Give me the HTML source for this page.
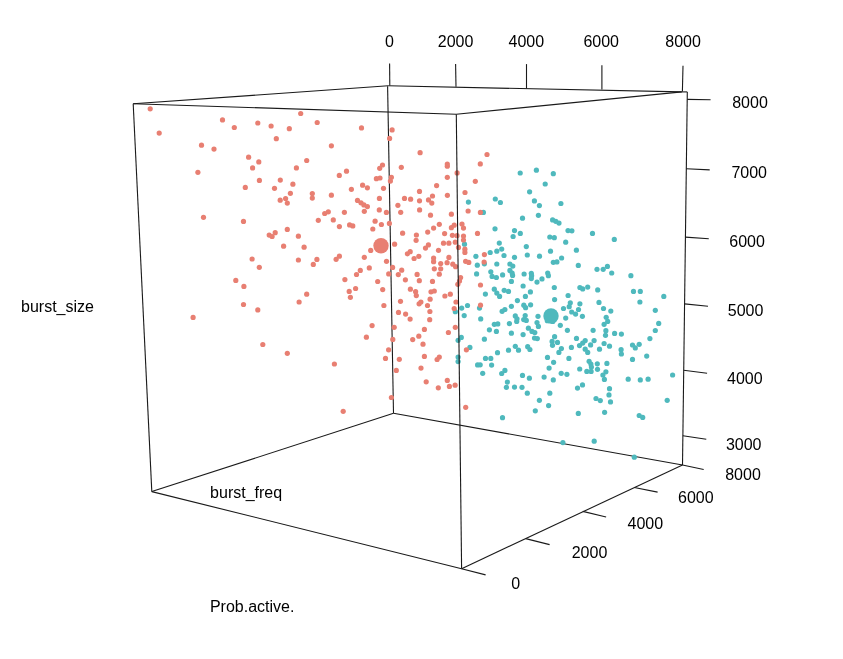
<!DOCTYPE html>
<html><head><meta charset="utf-8"><style>
html,body{margin:0;padding:0;background:#fff;}
svg{display:block;will-change:transform;}
text{font-family:"Liberation Sans",sans-serif;font-size:16px;fill:#000;}
</style></head><body>
<svg width="843" height="659" viewBox="0 0 843 659">
<rect width="843" height="659" fill="#fff"/>
<g stroke="#1a1a1a" stroke-width="1.1" fill="none">
<line x1="133.2" y1="103.7" x2="388.2" y2="85.8"/>
<line x1="388.2" y1="85.8" x2="681.8" y2="91.9"/>
<line x1="681.8" y1="91.9" x2="456.3" y2="114.2"/>
<line x1="456.3" y1="114.2" x2="133.2" y2="103.7"/>
<line x1="681.8" y1="91.9" x2="687.3" y2="91.9"/>
<line x1="133.2" y1="103.7" x2="151.8" y2="491.6"/>
<line x1="387.6" y1="86.3" x2="393.5" y2="413.3"/>
<line x1="687.3" y1="91.9" x2="682.5" y2="465.0"/>
<line x1="151.8" y1="491.6" x2="393.5" y2="413.3"/>
<line x1="393.5" y1="413.3" x2="682.5" y2="465.0"/>
<line x1="682.5" y1="465.0" x2="461.6" y2="568.7"/>
<line x1="461.6" y1="568.7" x2="151.8" y2="491.6"/>
<line x1="389.6" y1="63.6" x2="389.8" y2="85.6"/>
<line x1="455.6" y1="64.0" x2="456.0" y2="86.8"/>
<line x1="526.5" y1="64.1" x2="526.5" y2="88.5"/>
<line x1="601.9" y1="65.2" x2="601.9" y2="89.6"/>
<line x1="683.0" y1="65.7" x2="682.4" y2="91.5"/>
<line x1="461.6" y1="568.7" x2="485.6" y2="574.9"/>
<line x1="525.7" y1="538.6" x2="549.6" y2="544.6"/>
<line x1="582.8" y1="511.4" x2="606.1" y2="517.0"/>
<line x1="634.3" y1="487.5" x2="657.6" y2="492.1"/>
<line x1="682.5" y1="465.0" x2="703.7" y2="469.5"/>
<line x1="687.2" y1="99.4" x2="710.6" y2="99.8"/>
<line x1="686.3" y1="168.8" x2="709.7" y2="169.9"/>
<line x1="685.4" y1="237.1" x2="708.8" y2="238.8"/>
<line x1="684.6" y1="303.9" x2="708.0" y2="306.2"/>
<line x1="683.7" y1="370.2" x2="707.1" y2="373.2"/>
<line x1="682.9" y1="435.7" x2="706.3" y2="439.3"/>
</g>
<g>
<circle cx="520.2" cy="173.0" r="2.6" fill="#4fb9bd"/>
<circle cx="536.4" cy="170.2" r="2.6" fill="#4fb9bd"/>
<circle cx="553.3" cy="173.7" r="2.6" fill="#4fb9bd"/>
<circle cx="545.2" cy="184.0" r="2.6" fill="#4fb9bd"/>
<circle cx="468.4" cy="202.1" r="2.6" fill="#4fb9bd"/>
<circle cx="483.4" cy="212.4" r="2.6" fill="#4fb9bd"/>
<circle cx="464.5" cy="244.2" r="2.6" fill="#4fb9bd"/>
<circle cx="475.9" cy="256.3" r="2.6" fill="#4fb9bd"/>
<circle cx="490.2" cy="252.5" r="2.6" fill="#4fb9bd"/>
<circle cx="477.3" cy="265.2" r="2.6" fill="#4fb9bd"/>
<circle cx="484.4" cy="263.8" r="2.6" fill="#4fb9bd"/>
<circle cx="476.6" cy="273.9" r="2.6" fill="#4fb9bd"/>
<circle cx="490.8" cy="271.8" r="2.6" fill="#4fb9bd"/>
<circle cx="529.6" cy="191.8" r="2.6" fill="#4fb9bd"/>
<circle cx="495.3" cy="199.0" r="2.6" fill="#4fb9bd"/>
<circle cx="500.4" cy="202.5" r="2.6" fill="#4fb9bd"/>
<circle cx="534.4" cy="200.9" r="2.6" fill="#4fb9bd"/>
<circle cx="539.4" cy="205.6" r="2.6" fill="#4fb9bd"/>
<circle cx="560.9" cy="203.5" r="2.6" fill="#4fb9bd"/>
<circle cx="538.4" cy="215.3" r="2.6" fill="#4fb9bd"/>
<circle cx="522.5" cy="218.2" r="2.6" fill="#4fb9bd"/>
<circle cx="552.6" cy="219.9" r="2.6" fill="#4fb9bd"/>
<circle cx="555.8" cy="221.3" r="2.6" fill="#4fb9bd"/>
<circle cx="559.0" cy="223.1" r="2.6" fill="#4fb9bd"/>
<circle cx="495.0" cy="228.8" r="2.6" fill="#4fb9bd"/>
<circle cx="514.5" cy="230.6" r="2.6" fill="#4fb9bd"/>
<circle cx="520.3" cy="233.4" r="2.6" fill="#4fb9bd"/>
<circle cx="513.1" cy="236.5" r="2.6" fill="#4fb9bd"/>
<circle cx="568.0" cy="230.6" r="2.6" fill="#4fb9bd"/>
<circle cx="571.9" cy="230.8" r="2.6" fill="#4fb9bd"/>
<circle cx="592.5" cy="233.4" r="2.6" fill="#4fb9bd"/>
<circle cx="549.8" cy="237.0" r="2.6" fill="#4fb9bd"/>
<circle cx="554.3" cy="237.7" r="2.6" fill="#4fb9bd"/>
<circle cx="565.7" cy="242.2" r="2.6" fill="#4fb9bd"/>
<circle cx="499.3" cy="243.1" r="2.6" fill="#4fb9bd"/>
<circle cx="496.8" cy="251.2" r="2.6" fill="#4fb9bd"/>
<circle cx="501.7" cy="249.1" r="2.6" fill="#4fb9bd"/>
<circle cx="526.3" cy="246.6" r="2.6" fill="#4fb9bd"/>
<circle cx="504.0" cy="255.5" r="2.6" fill="#4fb9bd"/>
<circle cx="514.5" cy="257.3" r="2.6" fill="#4fb9bd"/>
<circle cx="527.3" cy="255.0" r="2.6" fill="#4fb9bd"/>
<circle cx="539.5" cy="256.2" r="2.6" fill="#4fb9bd"/>
<circle cx="550.5" cy="251.2" r="2.6" fill="#4fb9bd"/>
<circle cx="576.4" cy="250.2" r="2.6" fill="#4fb9bd"/>
<circle cx="553.3" cy="262.3" r="2.6" fill="#4fb9bd"/>
<circle cx="556.9" cy="261.9" r="2.6" fill="#4fb9bd"/>
<circle cx="561.6" cy="258.0" r="2.6" fill="#4fb9bd"/>
<circle cx="578.3" cy="265.4" r="2.6" fill="#4fb9bd"/>
<circle cx="496.8" cy="264.0" r="2.6" fill="#4fb9bd"/>
<circle cx="509.9" cy="264.0" r="2.6" fill="#4fb9bd"/>
<circle cx="512.8" cy="266.1" r="2.6" fill="#4fb9bd"/>
<circle cx="509.9" cy="270.4" r="2.6" fill="#4fb9bd"/>
<circle cx="512.1" cy="273.0" r="2.6" fill="#4fb9bd"/>
<circle cx="502.6" cy="274.9" r="2.6" fill="#4fb9bd"/>
<circle cx="524.1" cy="274.0" r="2.6" fill="#4fb9bd"/>
<circle cx="531.3" cy="273.3" r="2.6" fill="#4fb9bd"/>
<circle cx="547.7" cy="273.0" r="2.6" fill="#4fb9bd"/>
<circle cx="597.0" cy="269.3" r="2.6" fill="#4fb9bd"/>
<circle cx="603.2" cy="269.3" r="2.6" fill="#4fb9bd"/>
<circle cx="607.4" cy="266.4" r="2.6" fill="#4fb9bd"/>
<circle cx="614.3" cy="239.4" r="2.6" fill="#4fb9bd"/>
<circle cx="611.7" cy="273.0" r="2.6" fill="#4fb9bd"/>
<circle cx="630.9" cy="275.7" r="2.6" fill="#4fb9bd"/>
<circle cx="485.4" cy="294.1" r="2.6" fill="#4fb9bd"/>
<circle cx="467.5" cy="305.5" r="2.6" fill="#4fb9bd"/>
<circle cx="461.7" cy="308.1" r="2.6" fill="#4fb9bd"/>
<circle cx="455.3" cy="311.7" r="2.6" fill="#4fb9bd"/>
<circle cx="464.2" cy="315.6" r="2.6" fill="#4fb9bd"/>
<circle cx="479.5" cy="308.1" r="2.6" fill="#4fb9bd"/>
<circle cx="480.7" cy="318.9" r="2.6" fill="#4fb9bd"/>
<circle cx="489.4" cy="329.8" r="2.6" fill="#4fb9bd"/>
<circle cx="461.3" cy="337.4" r="2.6" fill="#4fb9bd"/>
<circle cx="458.1" cy="340.3" r="2.6" fill="#4fb9bd"/>
<circle cx="484.4" cy="339.2" r="2.6" fill="#4fb9bd"/>
<circle cx="469.9" cy="347.4" r="2.6" fill="#4fb9bd"/>
<circle cx="458.1" cy="357.0" r="2.6" fill="#4fb9bd"/>
<circle cx="458.1" cy="361.6" r="2.6" fill="#4fb9bd"/>
<circle cx="485.5" cy="358.4" r="2.6" fill="#4fb9bd"/>
<circle cx="490.8" cy="358.4" r="2.6" fill="#4fb9bd"/>
<circle cx="477.6" cy="364.9" r="2.6" fill="#4fb9bd"/>
<circle cx="480.2" cy="364.8" r="2.6" fill="#4fb9bd"/>
<circle cx="492.1" cy="276.4" r="2.6" fill="#4fb9bd"/>
<circle cx="496.4" cy="277.5" r="2.6" fill="#4fb9bd"/>
<circle cx="512.6" cy="275.4" r="2.6" fill="#4fb9bd"/>
<circle cx="531.6" cy="275.7" r="2.6" fill="#4fb9bd"/>
<circle cx="531.3" cy="278.6" r="2.6" fill="#4fb9bd"/>
<circle cx="542.0" cy="278.9" r="2.6" fill="#4fb9bd"/>
<circle cx="537.0" cy="282.1" r="2.6" fill="#4fb9bd"/>
<circle cx="548.4" cy="275.7" r="2.6" fill="#4fb9bd"/>
<circle cx="511.4" cy="281.4" r="2.6" fill="#4fb9bd"/>
<circle cx="523.1" cy="286.0" r="2.6" fill="#4fb9bd"/>
<circle cx="494.3" cy="289.2" r="2.6" fill="#4fb9bd"/>
<circle cx="496.8" cy="293.1" r="2.6" fill="#4fb9bd"/>
<circle cx="499.6" cy="296.4" r="2.6" fill="#4fb9bd"/>
<circle cx="504.2" cy="290.3" r="2.6" fill="#4fb9bd"/>
<circle cx="508.5" cy="291.4" r="2.6" fill="#4fb9bd"/>
<circle cx="530.4" cy="291.9" r="2.6" fill="#4fb9bd"/>
<circle cx="525.4" cy="296.4" r="2.6" fill="#4fb9bd"/>
<circle cx="517.4" cy="300.6" r="2.6" fill="#4fb9bd"/>
<circle cx="511.4" cy="306.3" r="2.6" fill="#4fb9bd"/>
<circle cx="523.8" cy="305.2" r="2.6" fill="#4fb9bd"/>
<circle cx="525.6" cy="307.7" r="2.6" fill="#4fb9bd"/>
<circle cx="530.6" cy="304.8" r="2.6" fill="#4fb9bd"/>
<circle cx="502.1" cy="311.3" r="2.6" fill="#4fb9bd"/>
<circle cx="504.9" cy="309.5" r="2.6" fill="#4fb9bd"/>
<circle cx="515.3" cy="315.9" r="2.6" fill="#4fb9bd"/>
<circle cx="517.0" cy="318.8" r="2.6" fill="#4fb9bd"/>
<circle cx="525.2" cy="315.6" r="2.6" fill="#4fb9bd"/>
<circle cx="523.7" cy="319.6" r="2.6" fill="#4fb9bd"/>
<circle cx="538.0" cy="316.3" r="2.6" fill="#4fb9bd"/>
<circle cx="554.3" cy="287.5" r="2.6" fill="#4fb9bd"/>
<circle cx="579.9" cy="287.5" r="2.6" fill="#4fb9bd"/>
<circle cx="582.7" cy="288.9" r="2.6" fill="#4fb9bd"/>
<circle cx="587.7" cy="287.1" r="2.6" fill="#4fb9bd"/>
<circle cx="597.7" cy="289.9" r="2.6" fill="#4fb9bd"/>
<circle cx="568.1" cy="295.5" r="2.6" fill="#4fb9bd"/>
<circle cx="554.6" cy="299.6" r="2.6" fill="#4fb9bd"/>
<circle cx="570.3" cy="302.8" r="2.6" fill="#4fb9bd"/>
<circle cx="569.2" cy="306.7" r="2.6" fill="#4fb9bd"/>
<circle cx="563.5" cy="308.5" r="2.6" fill="#4fb9bd"/>
<circle cx="579.9" cy="303.8" r="2.6" fill="#4fb9bd"/>
<circle cx="578.5" cy="309.5" r="2.6" fill="#4fb9bd"/>
<circle cx="571.7" cy="312.0" r="2.6" fill="#4fb9bd"/>
<circle cx="575.6" cy="314.1" r="2.6" fill="#4fb9bd"/>
<circle cx="582.4" cy="316.3" r="2.6" fill="#4fb9bd"/>
<circle cx="565.7" cy="318.1" r="2.6" fill="#4fb9bd"/>
<circle cx="599.0" cy="302.4" r="2.6" fill="#4fb9bd"/>
<circle cx="603.5" cy="308.5" r="2.6" fill="#4fb9bd"/>
<circle cx="610.8" cy="311.1" r="2.6" fill="#4fb9bd"/>
<circle cx="606.2" cy="317.3" r="2.6" fill="#4fb9bd"/>
<circle cx="494.3" cy="324.3" r="2.6" fill="#4fb9bd"/>
<circle cx="497.8" cy="323.9" r="2.6" fill="#4fb9bd"/>
<circle cx="496.4" cy="331.4" r="2.6" fill="#4fb9bd"/>
<circle cx="509.4" cy="323.6" r="2.6" fill="#4fb9bd"/>
<circle cx="516.7" cy="321.4" r="2.6" fill="#4fb9bd"/>
<circle cx="526.3" cy="320.4" r="2.6" fill="#4fb9bd"/>
<circle cx="537.0" cy="322.5" r="2.6" fill="#4fb9bd"/>
<circle cx="538.4" cy="326.4" r="2.6" fill="#4fb9bd"/>
<circle cx="547.3" cy="320.7" r="2.6" fill="#4fb9bd"/>
<circle cx="511.4" cy="333.2" r="2.6" fill="#4fb9bd"/>
<circle cx="523.1" cy="334.6" r="2.6" fill="#4fb9bd"/>
<circle cx="528.4" cy="328.2" r="2.6" fill="#4fb9bd"/>
<circle cx="532.0" cy="331.4" r="2.6" fill="#4fb9bd"/>
<circle cx="534.8" cy="332.5" r="2.6" fill="#4fb9bd"/>
<circle cx="534.5" cy="338.1" r="2.6" fill="#4fb9bd"/>
<circle cx="537.3" cy="338.6" r="2.6" fill="#4fb9bd"/>
<circle cx="515.3" cy="346.3" r="2.6" fill="#4fb9bd"/>
<circle cx="518.5" cy="350.2" r="2.6" fill="#4fb9bd"/>
<circle cx="527.7" cy="346.7" r="2.6" fill="#4fb9bd"/>
<circle cx="529.9" cy="349.5" r="2.6" fill="#4fb9bd"/>
<circle cx="508.5" cy="350.2" r="2.6" fill="#4fb9bd"/>
<circle cx="497.5" cy="352.7" r="2.6" fill="#4fb9bd"/>
<circle cx="491.6" cy="365.1" r="2.6" fill="#4fb9bd"/>
<circle cx="547.5" cy="357.4" r="2.6" fill="#4fb9bd"/>
<circle cx="552.8" cy="321.4" r="2.6" fill="#4fb9bd"/>
<circle cx="560.3" cy="325.3" r="2.6" fill="#4fb9bd"/>
<circle cx="567.4" cy="330.3" r="2.6" fill="#4fb9bd"/>
<circle cx="593.1" cy="330.3" r="2.6" fill="#4fb9bd"/>
<circle cx="604.1" cy="324.3" r="2.6" fill="#4fb9bd"/>
<circle cx="607.7" cy="321.4" r="2.6" fill="#4fb9bd"/>
<circle cx="605.9" cy="330.7" r="2.6" fill="#4fb9bd"/>
<circle cx="605.5" cy="335.3" r="2.6" fill="#4fb9bd"/>
<circle cx="554.6" cy="336.7" r="2.6" fill="#4fb9bd"/>
<circle cx="552.1" cy="341.4" r="2.6" fill="#4fb9bd"/>
<circle cx="552.5" cy="345.3" r="2.6" fill="#4fb9bd"/>
<circle cx="557.5" cy="342.4" r="2.6" fill="#4fb9bd"/>
<circle cx="576.5" cy="338.4" r="2.6" fill="#4fb9bd"/>
<circle cx="585.2" cy="340.6" r="2.6" fill="#4fb9bd"/>
<circle cx="582.7" cy="343.1" r="2.6" fill="#4fb9bd"/>
<circle cx="579.5" cy="345.6" r="2.6" fill="#4fb9bd"/>
<circle cx="585.2" cy="349.2" r="2.6" fill="#4fb9bd"/>
<circle cx="587.7" cy="352.4" r="2.6" fill="#4fb9bd"/>
<circle cx="594.1" cy="340.6" r="2.6" fill="#4fb9bd"/>
<circle cx="590.6" cy="344.9" r="2.6" fill="#4fb9bd"/>
<circle cx="604.1" cy="343.5" r="2.6" fill="#4fb9bd"/>
<circle cx="609.5" cy="346.2" r="2.6" fill="#4fb9bd"/>
<circle cx="599.5" cy="349.2" r="2.6" fill="#4fb9bd"/>
<circle cx="571.4" cy="347.4" r="2.6" fill="#4fb9bd"/>
<circle cx="561.4" cy="348.5" r="2.6" fill="#4fb9bd"/>
<circle cx="558.9" cy="352.4" r="2.6" fill="#4fb9bd"/>
<circle cx="568.9" cy="358.4" r="2.6" fill="#4fb9bd"/>
<circle cx="553.6" cy="362.3" r="2.6" fill="#4fb9bd"/>
<circle cx="589.1" cy="361.3" r="2.6" fill="#4fb9bd"/>
<circle cx="590.9" cy="364.1" r="2.6" fill="#4fb9bd"/>
<circle cx="597.3" cy="363.8" r="2.6" fill="#4fb9bd"/>
<circle cx="606.9" cy="363.4" r="2.6" fill="#4fb9bd"/>
<circle cx="633.5" cy="291.4" r="2.6" fill="#4fb9bd"/>
<circle cx="640.3" cy="291.4" r="2.6" fill="#4fb9bd"/>
<circle cx="663.8" cy="296.4" r="2.6" fill="#4fb9bd"/>
<circle cx="639.9" cy="302.0" r="2.6" fill="#4fb9bd"/>
<circle cx="655.3" cy="310.3" r="2.6" fill="#4fb9bd"/>
<circle cx="658.7" cy="323.4" r="2.6" fill="#4fb9bd"/>
<circle cx="655.3" cy="330.5" r="2.6" fill="#4fb9bd"/>
<circle cx="614.6" cy="333.4" r="2.6" fill="#4fb9bd"/>
<circle cx="621.4" cy="334.1" r="2.6" fill="#4fb9bd"/>
<circle cx="649.9" cy="338.6" r="2.6" fill="#4fb9bd"/>
<circle cx="632.5" cy="345.0" r="2.6" fill="#4fb9bd"/>
<circle cx="635.3" cy="347.9" r="2.6" fill="#4fb9bd"/>
<circle cx="639.2" cy="344.3" r="2.6" fill="#4fb9bd"/>
<circle cx="621.1" cy="349.7" r="2.6" fill="#4fb9bd"/>
<circle cx="621.4" cy="354.0" r="2.6" fill="#4fb9bd"/>
<circle cx="646.7" cy="356.1" r="2.6" fill="#4fb9bd"/>
<circle cx="632.5" cy="359.4" r="2.6" fill="#4fb9bd"/>
<circle cx="482.7" cy="373.3" r="2.6" fill="#4fb9bd"/>
<circle cx="501.7" cy="373.5" r="2.6" fill="#4fb9bd"/>
<circle cx="504.9" cy="370.4" r="2.6" fill="#4fb9bd"/>
<circle cx="522.5" cy="375.4" r="2.6" fill="#4fb9bd"/>
<circle cx="529.4" cy="378.2" r="2.6" fill="#4fb9bd"/>
<circle cx="544.1" cy="377.1" r="2.6" fill="#4fb9bd"/>
<circle cx="553.3" cy="379.9" r="2.6" fill="#4fb9bd"/>
<circle cx="549.1" cy="368.1" r="2.6" fill="#4fb9bd"/>
<circle cx="561.2" cy="373.3" r="2.6" fill="#4fb9bd"/>
<circle cx="566.9" cy="374.3" r="2.6" fill="#4fb9bd"/>
<circle cx="579.7" cy="369.0" r="2.6" fill="#4fb9bd"/>
<circle cx="586.8" cy="371.4" r="2.6" fill="#4fb9bd"/>
<circle cx="591.4" cy="367.1" r="2.6" fill="#4fb9bd"/>
<circle cx="591.1" cy="371.4" r="2.6" fill="#4fb9bd"/>
<circle cx="597.5" cy="369.3" r="2.6" fill="#4fb9bd"/>
<circle cx="507.4" cy="382.1" r="2.6" fill="#4fb9bd"/>
<circle cx="506.4" cy="387.3" r="2.6" fill="#4fb9bd"/>
<circle cx="514.5" cy="387.1" r="2.6" fill="#4fb9bd"/>
<circle cx="522.0" cy="387.3" r="2.6" fill="#4fb9bd"/>
<circle cx="527.3" cy="393.2" r="2.6" fill="#4fb9bd"/>
<circle cx="549.8" cy="393.2" r="2.6" fill="#4fb9bd"/>
<circle cx="539.4" cy="400.3" r="2.6" fill="#4fb9bd"/>
<circle cx="548.6" cy="405.6" r="2.6" fill="#4fb9bd"/>
<circle cx="535.3" cy="410.8" r="2.6" fill="#4fb9bd"/>
<circle cx="502.5" cy="417.7" r="2.6" fill="#4fb9bd"/>
<circle cx="577.5" cy="388.1" r="2.6" fill="#4fb9bd"/>
<circle cx="582.5" cy="384.9" r="2.6" fill="#4fb9bd"/>
<circle cx="596.0" cy="398.5" r="2.6" fill="#4fb9bd"/>
<circle cx="600.3" cy="400.6" r="2.6" fill="#4fb9bd"/>
<circle cx="609.5" cy="388.7" r="2.6" fill="#4fb9bd"/>
<circle cx="609.0" cy="394.9" r="2.6" fill="#4fb9bd"/>
<circle cx="610.5" cy="401.9" r="2.6" fill="#4fb9bd"/>
<circle cx="578.3" cy="413.4" r="2.6" fill="#4fb9bd"/>
<circle cx="604.6" cy="412.3" r="2.6" fill="#4fb9bd"/>
<circle cx="562.9" cy="442.6" r="2.6" fill="#4fb9bd"/>
<circle cx="594.2" cy="441.2" r="2.6" fill="#4fb9bd"/>
<circle cx="628.2" cy="379.2" r="2.6" fill="#4fb9bd"/>
<circle cx="640.3" cy="379.9" r="2.6" fill="#4fb9bd"/>
<circle cx="648.1" cy="379.2" r="2.6" fill="#4fb9bd"/>
<circle cx="672.6" cy="375.0" r="2.6" fill="#4fb9bd"/>
<circle cx="667.2" cy="400.3" r="2.6" fill="#4fb9bd"/>
<circle cx="639.2" cy="415.5" r="2.6" fill="#4fb9bd"/>
<circle cx="642.7" cy="417.4" r="2.6" fill="#4fb9bd"/>
<circle cx="634.3" cy="457.2" r="2.6" fill="#4fb9bd"/>
<circle cx="605.9" cy="371.8" r="2.6" fill="#4fb9bd"/>
<circle cx="602.9" cy="375.0" r="2.6" fill="#4fb9bd"/>
<circle cx="604.4" cy="379.4" r="2.6" fill="#4fb9bd"/>
<circle cx="150.2" cy="108.8" r="2.6" fill="#e87f72"/>
<circle cx="222.5" cy="119.9" r="2.6" fill="#e87f72"/>
<circle cx="234.3" cy="127.5" r="2.6" fill="#e87f72"/>
<circle cx="159.2" cy="133.1" r="2.6" fill="#e87f72"/>
<circle cx="201.5" cy="145.2" r="2.6" fill="#e87f72"/>
<circle cx="214.0" cy="149.1" r="2.6" fill="#e87f72"/>
<circle cx="248.6" cy="157.2" r="2.6" fill="#e87f72"/>
<circle cx="197.9" cy="172.3" r="2.6" fill="#e87f72"/>
<circle cx="300.7" cy="113.5" r="2.6" fill="#e87f72"/>
<circle cx="257.8" cy="123.0" r="2.6" fill="#e87f72"/>
<circle cx="271.1" cy="126.0" r="2.6" fill="#e87f72"/>
<circle cx="289.3" cy="128.7" r="2.6" fill="#e87f72"/>
<circle cx="317.2" cy="122.5" r="2.6" fill="#e87f72"/>
<circle cx="361.5" cy="127.9" r="2.6" fill="#e87f72"/>
<circle cx="276.3" cy="138.7" r="2.6" fill="#e87f72"/>
<circle cx="331.4" cy="145.8" r="2.6" fill="#e87f72"/>
<circle cx="258.8" cy="161.9" r="2.6" fill="#e87f72"/>
<circle cx="306.7" cy="160.5" r="2.6" fill="#e87f72"/>
<circle cx="252.6" cy="167.9" r="2.6" fill="#e87f72"/>
<circle cx="296.4" cy="167.9" r="2.6" fill="#e87f72"/>
<circle cx="346.5" cy="171.2" r="2.6" fill="#e87f72"/>
<circle cx="339.3" cy="175.4" r="2.6" fill="#e87f72"/>
<circle cx="259.4" cy="180.4" r="2.6" fill="#e87f72"/>
<circle cx="280.3" cy="180.1" r="2.6" fill="#e87f72"/>
<circle cx="292.9" cy="184.2" r="2.6" fill="#e87f72"/>
<circle cx="362.6" cy="185.2" r="2.6" fill="#e87f72"/>
<circle cx="392.1" cy="129.9" r="2.6" fill="#e87f72"/>
<circle cx="389.6" cy="138.4" r="2.6" fill="#e87f72"/>
<circle cx="420.1" cy="152.7" r="2.6" fill="#e87f72"/>
<circle cx="487.0" cy="154.5" r="2.6" fill="#e87f72"/>
<circle cx="382.5" cy="165.0" r="2.6" fill="#e87f72"/>
<circle cx="379.7" cy="168.3" r="2.6" fill="#e87f72"/>
<circle cx="401.3" cy="167.3" r="2.6" fill="#e87f72"/>
<circle cx="447.3" cy="164.0" r="2.6" fill="#e87f72"/>
<circle cx="447.3" cy="166.2" r="2.6" fill="#e87f72"/>
<circle cx="480.3" cy="163.9" r="2.6" fill="#e87f72"/>
<circle cx="457.1" cy="172.9" r="2.6" fill="#e87f72"/>
<circle cx="447.3" cy="177.3" r="2.6" fill="#e87f72"/>
<circle cx="475.3" cy="181.3" r="2.6" fill="#e87f72"/>
<circle cx="376.4" cy="178.7" r="2.6" fill="#e87f72"/>
<circle cx="380.0" cy="178.0" r="2.6" fill="#e87f72"/>
<circle cx="391.4" cy="177.3" r="2.6" fill="#e87f72"/>
<circle cx="390.4" cy="181.1" r="2.6" fill="#e87f72"/>
<circle cx="436.6" cy="185.6" r="2.6" fill="#e87f72"/>
<circle cx="245.3" cy="187.4" r="2.6" fill="#e87f72"/>
<circle cx="203.5" cy="217.3" r="2.6" fill="#e87f72"/>
<circle cx="243.5" cy="221.4" r="2.6" fill="#e87f72"/>
<circle cx="274.5" cy="188.3" r="2.6" fill="#e87f72"/>
<circle cx="290.4" cy="193.3" r="2.6" fill="#e87f72"/>
<circle cx="285.6" cy="198.5" r="2.6" fill="#e87f72"/>
<circle cx="280.2" cy="200.2" r="2.6" fill="#e87f72"/>
<circle cx="287.3" cy="203.1" r="2.6" fill="#e87f72"/>
<circle cx="312.3" cy="193.5" r="2.6" fill="#e87f72"/>
<circle cx="312.3" cy="198.1" r="2.6" fill="#e87f72"/>
<circle cx="331.4" cy="195.2" r="2.6" fill="#e87f72"/>
<circle cx="351.4" cy="189.3" r="2.6" fill="#e87f72"/>
<circle cx="367.4" cy="187.8" r="2.6" fill="#e87f72"/>
<circle cx="357.5" cy="200.4" r="2.6" fill="#e87f72"/>
<circle cx="361.0" cy="202.8" r="2.6" fill="#e87f72"/>
<circle cx="363.9" cy="204.9" r="2.6" fill="#e87f72"/>
<circle cx="367.4" cy="206.6" r="2.6" fill="#e87f72"/>
<circle cx="364.3" cy="211.3" r="2.6" fill="#e87f72"/>
<circle cx="324.7" cy="213.5" r="2.6" fill="#e87f72"/>
<circle cx="328.3" cy="211.8" r="2.6" fill="#e87f72"/>
<circle cx="344.4" cy="212.3" r="2.6" fill="#e87f72"/>
<circle cx="318.3" cy="220.3" r="2.6" fill="#e87f72"/>
<circle cx="333.3" cy="219.9" r="2.6" fill="#e87f72"/>
<circle cx="339.4" cy="226.6" r="2.6" fill="#e87f72"/>
<circle cx="349.6" cy="224.9" r="2.6" fill="#e87f72"/>
<circle cx="352.8" cy="225.9" r="2.6" fill="#e87f72"/>
<circle cx="287.3" cy="229.4" r="2.6" fill="#e87f72"/>
<circle cx="269.2" cy="235.1" r="2.6" fill="#e87f72"/>
<circle cx="272.1" cy="236.5" r="2.6" fill="#e87f72"/>
<circle cx="275.2" cy="232.7" r="2.6" fill="#e87f72"/>
<circle cx="298.4" cy="236.2" r="2.6" fill="#e87f72"/>
<circle cx="283.6" cy="246.2" r="2.6" fill="#e87f72"/>
<circle cx="304.1" cy="247.2" r="2.6" fill="#e87f72"/>
<circle cx="252.1" cy="259.0" r="2.6" fill="#e87f72"/>
<circle cx="259.3" cy="267.3" r="2.6" fill="#e87f72"/>
<circle cx="298.4" cy="260.0" r="2.6" fill="#e87f72"/>
<circle cx="316.9" cy="259.4" r="2.6" fill="#e87f72"/>
<circle cx="313.3" cy="264.4" r="2.6" fill="#e87f72"/>
<circle cx="336.1" cy="259.3" r="2.6" fill="#e87f72"/>
<circle cx="339.4" cy="256.2" r="2.6" fill="#e87f72"/>
<circle cx="364.3" cy="257.3" r="2.6" fill="#e87f72"/>
<circle cx="370.7" cy="250.4" r="2.6" fill="#e87f72"/>
<circle cx="360.3" cy="270.4" r="2.6" fill="#e87f72"/>
<circle cx="356.5" cy="274.5" r="2.6" fill="#e87f72"/>
<circle cx="369.3" cy="267.9" r="2.6" fill="#e87f72"/>
<circle cx="383.5" cy="188.3" r="2.6" fill="#e87f72"/>
<circle cx="379.4" cy="198.4" r="2.6" fill="#e87f72"/>
<circle cx="404.5" cy="198.4" r="2.6" fill="#e87f72"/>
<circle cx="410.6" cy="199.2" r="2.6" fill="#e87f72"/>
<circle cx="419.5" cy="191.4" r="2.6" fill="#e87f72"/>
<circle cx="419.5" cy="200.8" r="2.6" fill="#e87f72"/>
<circle cx="428.5" cy="199.9" r="2.6" fill="#e87f72"/>
<circle cx="397.9" cy="205.3" r="2.6" fill="#e87f72"/>
<circle cx="379.3" cy="209.9" r="2.6" fill="#e87f72"/>
<circle cx="386.4" cy="212.4" r="2.6" fill="#e87f72"/>
<circle cx="400.7" cy="212.3" r="2.6" fill="#e87f72"/>
<circle cx="419.6" cy="209.9" r="2.6" fill="#e87f72"/>
<circle cx="430.5" cy="215.2" r="2.6" fill="#e87f72"/>
<circle cx="375.1" cy="221.2" r="2.6" fill="#e87f72"/>
<circle cx="381.4" cy="224.5" r="2.6" fill="#e87f72"/>
<circle cx="389.4" cy="223.4" r="2.6" fill="#e87f72"/>
<circle cx="372.8" cy="229.0" r="2.6" fill="#e87f72"/>
<circle cx="432.5" cy="196.0" r="2.6" fill="#e87f72"/>
<circle cx="447.4" cy="195.3" r="2.6" fill="#e87f72"/>
<circle cx="431.8" cy="203.1" r="2.6" fill="#e87f72"/>
<circle cx="451.4" cy="214.2" r="2.6" fill="#e87f72"/>
<circle cx="465.0" cy="192.5" r="2.6" fill="#e87f72"/>
<circle cx="468.1" cy="211.0" r="2.6" fill="#e87f72"/>
<circle cx="480.4" cy="212.4" r="2.6" fill="#e87f72"/>
<circle cx="439.3" cy="224.3" r="2.6" fill="#e87f72"/>
<circle cx="433.6" cy="228.1" r="2.6" fill="#e87f72"/>
<circle cx="451.4" cy="227.7" r="2.6" fill="#e87f72"/>
<circle cx="454.2" cy="225.2" r="2.6" fill="#e87f72"/>
<circle cx="462.0" cy="224.1" r="2.6" fill="#e87f72"/>
<circle cx="463.5" cy="228.1" r="2.6" fill="#e87f72"/>
<circle cx="402.6" cy="233.2" r="2.6" fill="#e87f72"/>
<circle cx="416.4" cy="235.0" r="2.6" fill="#e87f72"/>
<circle cx="416.1" cy="240.3" r="2.6" fill="#e87f72"/>
<circle cx="427.7" cy="232.1" r="2.6" fill="#e87f72"/>
<circle cx="394.6" cy="244.2" r="2.6" fill="#e87f72"/>
<circle cx="407.4" cy="253.8" r="2.6" fill="#e87f72"/>
<circle cx="410.2" cy="251.7" r="2.6" fill="#e87f72"/>
<circle cx="425.5" cy="248.1" r="2.6" fill="#e87f72"/>
<circle cx="428.4" cy="244.9" r="2.6" fill="#e87f72"/>
<circle cx="414.1" cy="258.5" r="2.6" fill="#e87f72"/>
<circle cx="418.8" cy="256.3" r="2.6" fill="#e87f72"/>
<circle cx="386.5" cy="261.3" r="2.6" fill="#e87f72"/>
<circle cx="392.6" cy="267.4" r="2.6" fill="#e87f72"/>
<circle cx="401.7" cy="270.2" r="2.6" fill="#e87f72"/>
<circle cx="388.7" cy="273.9" r="2.6" fill="#e87f72"/>
<circle cx="398.3" cy="274.6" r="2.6" fill="#e87f72"/>
<circle cx="417.1" cy="274.4" r="2.6" fill="#e87f72"/>
<circle cx="444.6" cy="233.6" r="2.6" fill="#e87f72"/>
<circle cx="452.4" cy="235.3" r="2.6" fill="#e87f72"/>
<circle cx="457.0" cy="235.7" r="2.6" fill="#e87f72"/>
<circle cx="463.5" cy="236.0" r="2.6" fill="#e87f72"/>
<circle cx="463.5" cy="240.0" r="2.6" fill="#e87f72"/>
<circle cx="443.5" cy="243.2" r="2.6" fill="#e87f72"/>
<circle cx="448.9" cy="243.2" r="2.6" fill="#e87f72"/>
<circle cx="455.3" cy="242.2" r="2.6" fill="#e87f72"/>
<circle cx="458.5" cy="247.4" r="2.6" fill="#e87f72"/>
<circle cx="438.5" cy="250.3" r="2.6" fill="#e87f72"/>
<circle cx="464.9" cy="249.2" r="2.6" fill="#e87f72"/>
<circle cx="464.9" cy="252.4" r="2.6" fill="#e87f72"/>
<circle cx="477.5" cy="233.4" r="2.6" fill="#e87f72"/>
<circle cx="484.4" cy="254.6" r="2.6" fill="#e87f72"/>
<circle cx="433.6" cy="258.1" r="2.6" fill="#e87f72"/>
<circle cx="433.6" cy="261.7" r="2.6" fill="#e87f72"/>
<circle cx="448.9" cy="257.4" r="2.6" fill="#e87f72"/>
<circle cx="440.7" cy="263.5" r="2.6" fill="#e87f72"/>
<circle cx="447.1" cy="262.7" r="2.6" fill="#e87f72"/>
<circle cx="452.8" cy="264.2" r="2.6" fill="#e87f72"/>
<circle cx="455.6" cy="266.7" r="2.6" fill="#e87f72"/>
<circle cx="465.6" cy="261.3" r="2.6" fill="#e87f72"/>
<circle cx="468.8" cy="262.4" r="2.6" fill="#e87f72"/>
<circle cx="484.1" cy="262.0" r="2.6" fill="#e87f72"/>
<circle cx="434.3" cy="268.8" r="2.6" fill="#e87f72"/>
<circle cx="440.7" cy="268.8" r="2.6" fill="#e87f72"/>
<circle cx="439.3" cy="274.2" r="2.6" fill="#e87f72"/>
<circle cx="235.8" cy="280.4" r="2.6" fill="#e87f72"/>
<circle cx="243.9" cy="286.4" r="2.6" fill="#e87f72"/>
<circle cx="243.5" cy="304.5" r="2.6" fill="#e87f72"/>
<circle cx="193.1" cy="317.4" r="2.6" fill="#e87f72"/>
<circle cx="344.9" cy="279.6" r="2.6" fill="#e87f72"/>
<circle cx="355.6" cy="288.5" r="2.6" fill="#e87f72"/>
<circle cx="349.2" cy="291.4" r="2.6" fill="#e87f72"/>
<circle cx="350.4" cy="297.3" r="2.6" fill="#e87f72"/>
<circle cx="306.7" cy="294.2" r="2.6" fill="#e87f72"/>
<circle cx="299.1" cy="302.0" r="2.6" fill="#e87f72"/>
<circle cx="257.8" cy="309.9" r="2.6" fill="#e87f72"/>
<circle cx="366.4" cy="337.2" r="2.6" fill="#e87f72"/>
<circle cx="262.8" cy="344.5" r="2.6" fill="#e87f72"/>
<circle cx="287.3" cy="353.3" r="2.6" fill="#e87f72"/>
<circle cx="334.4" cy="364.0" r="2.6" fill="#e87f72"/>
<circle cx="377.7" cy="281.5" r="2.6" fill="#e87f72"/>
<circle cx="405.4" cy="279.8" r="2.6" fill="#e87f72"/>
<circle cx="419.3" cy="280.7" r="2.6" fill="#e87f72"/>
<circle cx="382.7" cy="289.6" r="2.6" fill="#e87f72"/>
<circle cx="410.4" cy="289.2" r="2.6" fill="#e87f72"/>
<circle cx="415.6" cy="291.7" r="2.6" fill="#e87f72"/>
<circle cx="416.3" cy="295.6" r="2.6" fill="#e87f72"/>
<circle cx="431.0" cy="291.8" r="2.6" fill="#e87f72"/>
<circle cx="400.5" cy="301.3" r="2.6" fill="#e87f72"/>
<circle cx="419.1" cy="303.8" r="2.6" fill="#e87f72"/>
<circle cx="420.9" cy="302.0" r="2.6" fill="#e87f72"/>
<circle cx="430.1" cy="299.2" r="2.6" fill="#e87f72"/>
<circle cx="427.5" cy="305.5" r="2.6" fill="#e87f72"/>
<circle cx="383.9" cy="305.5" r="2.6" fill="#e87f72"/>
<circle cx="398.5" cy="312.4" r="2.6" fill="#e87f72"/>
<circle cx="405.6" cy="314.1" r="2.6" fill="#e87f72"/>
<circle cx="410.1" cy="319.1" r="2.6" fill="#e87f72"/>
<circle cx="429.9" cy="311.5" r="2.6" fill="#e87f72"/>
<circle cx="429.7" cy="319.7" r="2.6" fill="#e87f72"/>
<circle cx="432.5" cy="281.4" r="2.6" fill="#e87f72"/>
<circle cx="460.6" cy="277.5" r="2.6" fill="#e87f72"/>
<circle cx="459.5" cy="281.0" r="2.6" fill="#e87f72"/>
<circle cx="457.8" cy="284.3" r="2.6" fill="#e87f72"/>
<circle cx="434.3" cy="291.0" r="2.6" fill="#e87f72"/>
<circle cx="444.9" cy="296.0" r="2.6" fill="#e87f72"/>
<circle cx="450.3" cy="294.2" r="2.6" fill="#e87f72"/>
<circle cx="456.0" cy="302.0" r="2.6" fill="#e87f72"/>
<circle cx="454.2" cy="308.5" r="2.6" fill="#e87f72"/>
<circle cx="480.5" cy="285.0" r="2.6" fill="#e87f72"/>
<circle cx="480.5" cy="305.2" r="2.6" fill="#e87f72"/>
<circle cx="372.1" cy="325.6" r="2.6" fill="#e87f72"/>
<circle cx="394.2" cy="327.3" r="2.6" fill="#e87f72"/>
<circle cx="424.4" cy="329.4" r="2.6" fill="#e87f72"/>
<circle cx="418.8" cy="336.2" r="2.6" fill="#e87f72"/>
<circle cx="412.7" cy="339.6" r="2.6" fill="#e87f72"/>
<circle cx="423.0" cy="344.2" r="2.6" fill="#e87f72"/>
<circle cx="392.8" cy="339.4" r="2.6" fill="#e87f72"/>
<circle cx="388.6" cy="349.8" r="2.6" fill="#e87f72"/>
<circle cx="385.5" cy="358.4" r="2.6" fill="#e87f72"/>
<circle cx="399.3" cy="359.3" r="2.6" fill="#e87f72"/>
<circle cx="424.4" cy="356.4" r="2.6" fill="#e87f72"/>
<circle cx="455.3" cy="327.3" r="2.6" fill="#e87f72"/>
<circle cx="448.4" cy="332.5" r="2.6" fill="#e87f72"/>
<circle cx="466.4" cy="349.8" r="2.6" fill="#e87f72"/>
<circle cx="439.3" cy="357.0" r="2.6" fill="#e87f72"/>
<circle cx="437.1" cy="359.5" r="2.6" fill="#e87f72"/>
<circle cx="343.2" cy="411.3" r="2.6" fill="#e87f72"/>
<circle cx="396.3" cy="370.4" r="2.6" fill="#e87f72"/>
<circle cx="421.0" cy="368.1" r="2.6" fill="#e87f72"/>
<circle cx="426.2" cy="381.8" r="2.6" fill="#e87f72"/>
<circle cx="447.3" cy="380.4" r="2.6" fill="#e87f72"/>
<circle cx="438.3" cy="387.8" r="2.6" fill="#e87f72"/>
<circle cx="449.4" cy="386.4" r="2.6" fill="#e87f72"/>
<circle cx="455.1" cy="385.2" r="2.6" fill="#e87f72"/>
<circle cx="391.4" cy="397.5" r="2.6" fill="#e87f72"/>
<circle cx="465.7" cy="407.3" r="2.6" fill="#e87f72"/>
<circle cx="381.0" cy="245.8" r="7.7" fill="#e87f72"/>
<circle cx="551.0" cy="316.0" r="7.7" fill="#4fb9bd"/>
</g>
<g stroke="#1a1a1a" stroke-width="1.1" fill="none"><line x1="456.3" y1="114.2" x2="461.6" y2="568.7"/></g>
<g>
<text x="389.4" y="46.5" text-anchor="middle">0</text>
<text x="455.6" y="46.5" text-anchor="middle">2000</text>
<text x="526.3" y="46.5" text-anchor="middle">4000</text>
<text x="601.2" y="46.5" text-anchor="middle">6000</text>
<text x="683.1" y="46.5" text-anchor="middle">8000</text>
<text x="750.0" y="108.0" text-anchor="middle">8000</text>
<text x="749.2" y="177.60000000000002" text-anchor="middle">7000</text>
<text x="747.1" y="247.10000000000002" text-anchor="middle">6000</text>
<text x="745.6" y="315.5" text-anchor="middle">5000</text>
<text x="744.8" y="383.6" text-anchor="middle">4000</text>
<text x="743.7" y="449.6" text-anchor="middle">3000</text>
<text x="515.6" y="588.9" text-anchor="middle">0</text>
<text x="589.5" y="557.5999999999999" text-anchor="middle">2000</text>
<text x="645.3" y="529.3" text-anchor="middle">4000</text>
<text x="695.8" y="503.40000000000003" text-anchor="middle">6000</text>
<text x="743.0" y="480.40000000000003" text-anchor="middle">8000</text>
<text x="21.0" y="311.6">burst_size</text>
<text x="210.1" y="497.9">burst_freq</text>
<text x="209.9" y="611.7">Prob.active.</text>
</g>
</svg>
</body></html>
